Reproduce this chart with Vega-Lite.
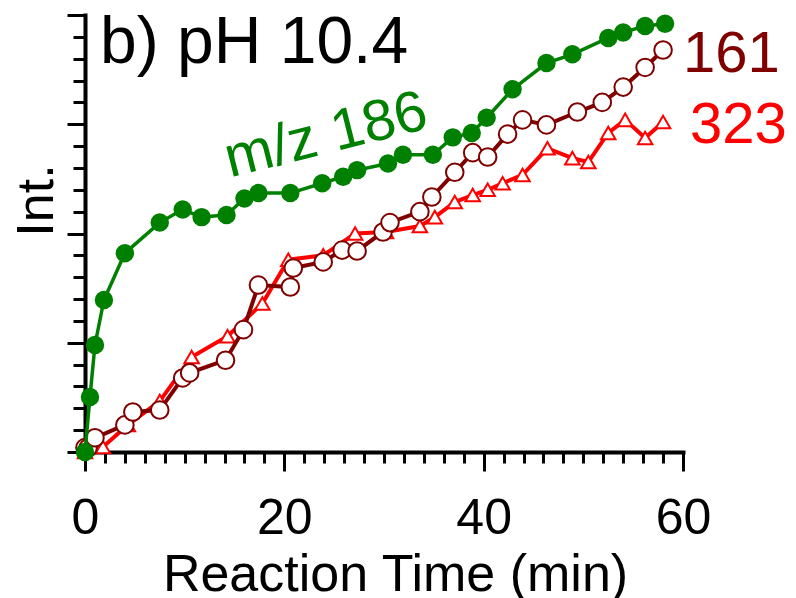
{
  "$schema": "https://vega.github.io/schema/vega-lite/v6.json",
  "autosize": "none",
  "width": 598,
  "height": 437,
  "padding": {"left": 85, "top": 15, "right": 113, "bottom": 146},
  "background": "white",
  "config": {"view": {"stroke": null}, "font": "Liberation Sans"},
  "datasets": {
    "pts": [
      {"t": 0, "v": 0, "s": "323"}, {"t": 1.8, "v": 0.23, "s": "323"}, {"t": 4.3, "v": 1.24, "s": "323"}, {"t": 7.5, "v": 2.33, "s": "323"}, {"t": 10.7, "v": 4.35, "s": "323"}, {"t": 14.3, "v": 5.3, "s": "323"}, {"t": 17.8, "v": 6.8, "s": "323"}, {"t": 20.4, "v": 8.8, "s": "323"}, {"t": 23.9, "v": 9.0, "s": "323"}, {"t": 27.1, "v": 10.0, "s": "323"}, {"t": 30.2, "v": 10.07, "s": "323"}, {"t": 33.6, "v": 10.34, "s": "323"}, {"t": 35.1, "v": 10.75, "s": "323"}, {"t": 37.1, "v": 11.44, "s": "323"}, {"t": 38.9, "v": 11.76, "s": "323"}, {"t": 40.4, "v": 12.0, "s": "323"}, {"t": 41.9, "v": 12.3, "s": "323"}, {"t": 43.9, "v": 12.68, "s": "323"}, {"t": 46.4, "v": 13.9, "s": "323"}, {"t": 48.9, "v": 13.45, "s": "323"}, {"t": 50.5, "v": 13.27, "s": "323"}, {"t": 52.5, "v": 14.6, "s": "323"}, {"t": 54.2, "v": 15.2, "s": "323"}, {"t": 56.2, "v": 14.37, "s": "323"}, {"t": 58.0, "v": 15.1, "s": "323"},
      {"t": 0, "v": 0.2, "s": "161"}, {"t": 0.3, "v": 0.18, "s": "161"}, {"t": 1.0, "v": 0.65, "s": "161"}, {"t": 4.0, "v": 1.24, "s": "161"}, {"t": 4.8, "v": 1.83, "s": "161"}, {"t": 7.5, "v": 1.92, "s": "161"}, {"t": 9.8, "v": 3.39, "s": "161"}, {"t": 10.5, "v": 3.62, "s": "161"}, {"t": 14.1, "v": 4.2, "s": "161"}, {"t": 15.9, "v": 5.6, "s": "161"}, {"t": 17.4, "v": 7.64, "s": "161"}, {"t": 20.6, "v": 7.55, "s": "161"}, {"t": 20.9, "v": 8.42, "s": "161"}, {"t": 23.9, "v": 8.7, "s": "161"}, {"t": 25.8, "v": 9.24, "s": "161"}, {"t": 27.3, "v": 9.2, "s": "161"}, {"t": 29.9, "v": 10.07, "s": "161"}, {"t": 30.6, "v": 10.5, "s": "161"}, {"t": 33.6, "v": 11.0, "s": "161"}, {"t": 34.8, "v": 11.67, "s": "161"}, {"t": 37.1, "v": 12.8, "s": "161"}, {"t": 38.9, "v": 13.7, "s": "161"}, {"t": 40.4, "v": 13.5, "s": "161"}, {"t": 42.4, "v": 14.55, "s": "161"}, {"t": 43.9, "v": 15.2, "s": "161"}, {"t": 46.3, "v": 14.97, "s": "161"}, {"t": 49.4, "v": 15.56, "s": "161"}, {"t": 51.9, "v": 16.0, "s": "161"}, {"t": 54.0, "v": 16.7, "s": "161"}, {"t": 56.2, "v": 17.6, "s": "161"}, {"t": 58.0, "v": 18.4, "s": "161"},
      {"t": 0, "v": 0, "s": "186"}, {"t": 0.5, "v": 2.52, "s": "186"}, {"t": 1.0, "v": 4.9, "s": "186"}, {"t": 1.9, "v": 6.96, "s": "186"}, {"t": 4.0, "v": 9.1, "s": "186"}, {"t": 7.5, "v": 10.5, "s": "186"}, {"t": 9.8, "v": 11.1, "s": "186"}, {"t": 11.7, "v": 10.75, "s": "186"}, {"t": 14.2, "v": 10.85, "s": "186"}, {"t": 16.0, "v": 11.6, "s": "186"}, {"t": 17.4, "v": 11.85, "s": "186"}, {"t": 20.6, "v": 11.85, "s": "186"}, {"t": 23.8, "v": 12.3, "s": "186"}, {"t": 25.9, "v": 12.6, "s": "186"}, {"t": 27.3, "v": 12.9, "s": "186"}, {"t": 30.4, "v": 13.2, "s": "186"}, {"t": 31.9, "v": 13.6, "s": "186"}, {"t": 34.9, "v": 13.6, "s": "186"}, {"t": 36.9, "v": 14.4, "s": "186"}, {"t": 38.8, "v": 14.6, "s": "186"}, {"t": 40.3, "v": 15.3, "s": "186"}, {"t": 42.9, "v": 16.6, "s": "186"}, {"t": 46.3, "v": 17.8, "s": "186"}, {"t": 48.9, "v": 18.2, "s": "186"}, {"t": 52.5, "v": 18.95, "s": "186"}, {"t": 54.0, "v": 19.2, "s": "186"}, {"t": 56.2, "v": 19.5, "s": "186"}, {"t": 58.2, "v": 19.6, "s": "186"}
    ],
    "labels": [
      {"t": 1.5, "v": 17.8, "txt": "b) pH 10.4", "c": "black", "fs": 66},
      {"t": 60.0, "v": 17.4, "txt": "161", "c": "#800000", "fs": 58},
      {"t": 60.7, "v": 14.14, "txt": "323", "c": "#FF0000", "fs": 58}
    ]
  },
  "layer": [
    {
      "data": {"name": "pts"},
      "transform": [{"filter": "datum.s === '323'"}],
      "mark": {"type": "line", "color": "#FF0000", "strokeWidth": 4},
      "encoding": {
        "x": {"field": "t", "type": "quantitative", "scale": {"domain": [0, 60], "nice": false, "zero": false},
          "axis": {
            "values": [0,2,4,6,8,10,12,14,16,18,20,22,24,26,28,30,32,34,36,38,40,42,44,46,48,50,52,54,56,58,60],
            "tickCount": 200, "format": "d",
            "labelExpr": "datum.value % 20 === 0 ? datum.label : ''",
            "grid": false, "domainColor": "black", "domainWidth": 4, "domainCap": "square",
            "tickColor": "black", "tickWidth": 3,
            "tickSize": {"condition": {"test": "datum.value % 20 === 0", "value": 19}, "value": 11},
            "labelFontSize": 50, "labelColor": "black", "labelPadding": 22, "labelFlush": false, "labelOverlap": false,
            "title": "Reaction Time (min)", "titleFontSize": 52, "titleFontWeight": "normal", "titleColor": "black",
            "titleX": 310, "titleY": 138, "titleBaseline": "alphabetic", "titleAlign": "center"
          }},
        "y": {"field": "v", "type": "quantitative", "scale": {"domain": [0, 20], "nice": false},
          "axis": {
            "values": [0,1,2,3,4,5,6,7,8,9,10,11,12,13,14,15,16,17,18,19,20],
            "tickCount": 200,
            "labels": false, "grid": false, "domainColor": "black", "domainWidth": 4, "domainCap": "square",
            "tickColor": "black", "tickWidth": 3,
            "tickSize": {"condition": {"test": "datum.value % 5 === 0", "value": 18}, "value": 12},
            "title": "Int.", "titleFontSize": 52, "titleFontWeight": "normal", "titleColor": "black",
            "titleX": -49, "titleY": 185, "titleAngle": -90, "titleAlign": "center", "titleBaseline": "middle"
          }}
      }
    },
    {
      "data": {"name": "pts"},
      "transform": [{"filter": "datum.s === '323'"}],
      "mark": {"type": "point", "shape": "triangle-up", "filled": true, "fill": "white", "stroke": "#FF0000", "strokeWidth": 2, "size": 210, "opacity": 1},
      "encoding": {"x": {"field": "t", "type": "quantitative"}, "y": {"field": "v", "type": "quantitative"}}
    },
    {
      "data": {"name": "pts"},
      "transform": [{"filter": "datum.s === '161'"}],
      "mark": {"type": "line", "color": "#800000", "strokeWidth": 4},
      "encoding": {"x": {"field": "t", "type": "quantitative"}, "y": {"field": "v", "type": "quantitative"}}
    },
    {
      "data": {"name": "pts"},
      "transform": [{"filter": "datum.s === '161'"}],
      "mark": {"type": "point", "shape": "circle", "filled": true, "fill": "white", "stroke": "#800000", "strokeWidth": 2, "size": 310, "opacity": 1},
      "encoding": {"x": {"field": "t", "type": "quantitative"}, "y": {"field": "v", "type": "quantitative"}}
    },
    {
      "data": {"name": "pts"},
      "transform": [{"filter": "datum.s === '186'"}],
      "mark": {"type": "line", "color": "#008000", "strokeWidth": 3.5},
      "encoding": {"x": {"field": "t", "type": "quantitative"}, "y": {"field": "v", "type": "quantitative"}}
    },
    {
      "data": {"name": "pts"},
      "transform": [{"filter": "datum.s === '186'"}],
      "mark": {"type": "point", "shape": "circle", "filled": true, "color": "#008000", "size": 340, "opacity": 1},
      "encoding": {"x": {"field": "t", "type": "quantitative"}, "y": {"field": "v", "type": "quantitative"}}
    },
    {
      "data": {"name": "labels"},
      "mark": {"type": "text", "align": "left", "baseline": "alphabetic"},
      "encoding": {
        "x": {"field": "t", "type": "quantitative"},
        "y": {"field": "v", "type": "quantitative"},
        "text": {"field": "txt"},
        "color": {"field": "c", "type": "nominal", "scale": null},
        "size": {"field": "fs", "type": "quantitative", "scale": null}
      }
    },
    {
      "data": {"values": [{"t": 24.6, "v": 13.7, "txt": "m/z 186"}]},
      "mark": {"type": "text", "align": "center", "baseline": "alphabetic", "angle": -14, "fontSize": 58, "color": "#008000"},
      "encoding": {
        "x": {"field": "t", "type": "quantitative"},
        "y": {"field": "v", "type": "quantitative"},
        "text": {"field": "txt"}
      }
    }
  ]
}
